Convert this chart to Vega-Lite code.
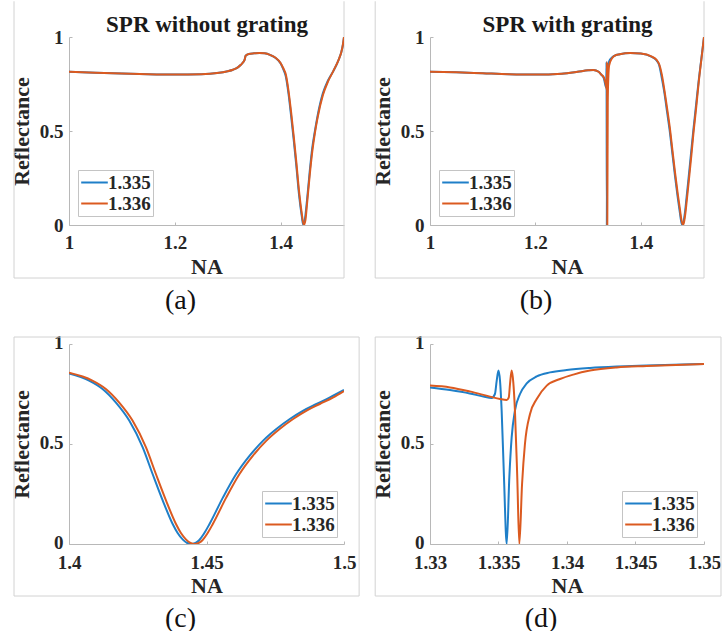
{
  "$schema": "https://vega.github.io/schema/vega-lite/v6.json",
  "background": "white",
  "padding": {"left": 10, "top": 0, "right": 0, "bottom": 0},
  "config": {
    "font": "Liberation Serif",
    "view": {"stroke": null},
    "axis": {
      "grid": false,
      "labelFont": "Liberation Serif", "labelFontSize": 19, "labelFontWeight": "bold", "labelColor": "#262626",
      "titleFont": "Liberation Serif", "titleFontSize": 22, "titleFontWeight": "bold", "titleColor": "#262626",
      "domainColor": "#b8b8b8", "tickColor": "#b8b8b8", "tickSize": -3, "labelFlush": false, "labelOverlap": false
    },
    "axisX": {"titlePadding": 4, "labelPadding": 11},
    "axisY": {"titlePadding": 6, "labelPadding": 9},
    "legend": {
      "labelFont": "Liberation Serif", "labelFontSize": 19, "labelFontWeight": "bold", "labelColor": "#262626",
      "symbolType": "M-1.4,0H1.4", "symbolSize": 361, "symbolStrokeWidth": 2, "symbolOffset": 4,
      "strokeColor": "#c4c4c4", "fillColor": "white", "padding": 2, "rowPadding": 0, "labelOffset": 3
    },
    "title": {"font": "Liberation Serif", "fontSize": 28, "fontWeight": "normal", "color": "#111111", "orient": "bottom", "anchor": "middle", "offset": 8}
  },
  "datasets": {
    "a": [
      {"NA":1.00,"R":0.815,"n":"1.335"},{"NA":1.05,"R":0.81,"n":"1.335"},{"NA":1.10,"R":0.806,"n":"1.335"},{"NA":1.15,"R":0.802,"n":"1.335"},{"NA":1.20,"R":0.80,"n":"1.335"},{"NA":1.25,"R":0.802,"n":"1.335"},{"NA":1.28,"R":0.808,"n":"1.335"},{"NA":1.30,"R":0.818,"n":"1.335"},{"NA":1.31,"R":0.826,"n":"1.335"},{"NA":1.32,"R":0.84,"n":"1.335"},{"NA":1.325,"R":0.852,"n":"1.335"},{"NA":1.33,"R":0.868,"n":"1.335"},{"NA":1.332,"R":0.878,"n":"1.335"},{"NA":1.334,"R":0.90,"n":"1.335"},{"NA":1.336,"R":0.905,"n":"1.335"},{"NA":1.34,"R":0.91,"n":"1.335"},{"NA":1.35,"R":0.913,"n":"1.335"},{"NA":1.36,"R":0.915,"n":"1.335"},{"NA":1.37,"R":0.913,"n":"1.335"},{"NA":1.38,"R":0.905,"n":"1.335"},{"NA":1.39,"R":0.89,"n":"1.335"},{"NA":1.40,"R":0.86,"n":"1.335"},{"NA":1.405,"R":0.83,"n":"1.335"},{"NA":1.41,"R":0.79,"n":"1.335"},{"NA":1.415,"R":0.70,"n":"1.335"},{"NA":1.42,"R":0.58,"n":"1.335"},{"NA":1.425,"R":0.45,"n":"1.335"},{"NA":1.43,"R":0.31,"n":"1.335"},{"NA":1.435,"R":0.16,"n":"1.335"},{"NA":1.44,"R":0.05,"n":"1.335"},{"NA":1.443,"R":0.0,"n":"1.335"},{"NA":1.446,"R":0.03,"n":"1.335"},{"NA":1.45,"R":0.13,"n":"1.335"},{"NA":1.455,"R":0.28,"n":"1.335"},{"NA":1.46,"R":0.41,"n":"1.335"},{"NA":1.465,"R":0.50,"n":"1.335"},{"NA":1.47,"R":0.58,"n":"1.335"},{"NA":1.48,"R":0.70,"n":"1.335"},{"NA":1.49,"R":0.77,"n":"1.335"},{"NA":1.50,"R":0.82,"n":"1.335"},{"NA":1.51,"R":0.88,"n":"1.335"},{"NA":1.515,"R":0.92,"n":"1.335"},{"NA":1.518,"R":0.96,"n":"1.335"},{"NA":1.52,"R":1.0,"n":"1.335"},
      {"NA":1.00,"R":0.815,"n":"1.336"},{"NA":1.05,"R":0.81,"n":"1.336"},{"NA":1.10,"R":0.806,"n":"1.336"},{"NA":1.15,"R":0.802,"n":"1.336"},{"NA":1.20,"R":0.80,"n":"1.336"},{"NA":1.25,"R":0.802,"n":"1.336"},{"NA":1.28,"R":0.808,"n":"1.336"},{"NA":1.30,"R":0.818,"n":"1.336"},{"NA":1.31,"R":0.826,"n":"1.336"},{"NA":1.32,"R":0.84,"n":"1.336"},{"NA":1.325,"R":0.852,"n":"1.336"},{"NA":1.33,"R":0.868,"n":"1.336"},{"NA":1.332,"R":0.878,"n":"1.336"},{"NA":1.334,"R":0.90,"n":"1.336"},{"NA":1.336,"R":0.905,"n":"1.336"},{"NA":1.34,"R":0.91,"n":"1.336"},{"NA":1.35,"R":0.913,"n":"1.336"},{"NA":1.36,"R":0.915,"n":"1.336"},{"NA":1.37,"R":0.913,"n":"1.336"},{"NA":1.38,"R":0.905,"n":"1.336"},{"NA":1.39,"R":0.891,"n":"1.336"},{"NA":1.40,"R":0.862,"n":"1.336"},{"NA":1.405,"R":0.835,"n":"1.336"},{"NA":1.41,"R":0.80,"n":"1.336"},{"NA":1.415,"R":0.715,"n":"1.336"},{"NA":1.42,"R":0.60,"n":"1.336"},{"NA":1.425,"R":0.47,"n":"1.336"},{"NA":1.43,"R":0.33,"n":"1.336"},{"NA":1.435,"R":0.18,"n":"1.336"},{"NA":1.44,"R":0.065,"n":"1.336"},{"NA":1.444,"R":0.0,"n":"1.336"},{"NA":1.447,"R":0.025,"n":"1.336"},{"NA":1.45,"R":0.11,"n":"1.336"},{"NA":1.455,"R":0.26,"n":"1.336"},{"NA":1.46,"R":0.39,"n":"1.336"},{"NA":1.465,"R":0.49,"n":"1.336"},{"NA":1.47,"R":0.57,"n":"1.336"},{"NA":1.48,"R":0.69,"n":"1.336"},{"NA":1.49,"R":0.765,"n":"1.336"},{"NA":1.50,"R":0.82,"n":"1.336"},{"NA":1.51,"R":0.88,"n":"1.336"},{"NA":1.515,"R":0.92,"n":"1.336"},{"NA":1.518,"R":0.96,"n":"1.336"},{"NA":1.52,"R":1.0,"n":"1.336"}
    ],
    "b": [
      {"NA":1.00,"R":0.815,"n":"1.335"},{"NA":1.05,"R":0.812,"n":"1.335"},{"NA":1.10,"R":0.807,"n":"1.335"},{"NA":1.15,"R":0.802,"n":"1.335"},{"NA":1.20,"R":0.80,"n":"1.335"},{"NA":1.25,"R":0.805,"n":"1.335"},{"NA":1.28,"R":0.815,"n":"1.335"},{"NA":1.30,"R":0.823,"n":"1.335"},{"NA":1.31,"R":0.825,"n":"1.335"},{"NA":1.32,"R":0.815,"n":"1.335"},{"NA":1.325,"R":0.80,"n":"1.335"},{"NA":1.33,"R":0.78,"n":"1.335"},{"NA":1.3345,"R":0.73,"n":"1.335"},{"NA":1.335,"R":0.867,"n":"1.335"},{"NA":1.3356,"R":0.0,"n":"1.335"},{"NA":1.3362,"R":0.667,"n":"1.335"},{"NA":1.337,"R":0.80,"n":"1.335"},{"NA":1.34,"R":0.87,"n":"1.335"},{"NA":1.345,"R":0.89,"n":"1.335"},{"NA":1.35,"R":0.90,"n":"1.335"},{"NA":1.36,"R":0.908,"n":"1.335"},{"NA":1.38,"R":0.915,"n":"1.335"},{"NA":1.40,"R":0.912,"n":"1.335"},{"NA":1.42,"R":0.895,"n":"1.335"},{"NA":1.43,"R":0.875,"n":"1.335"},{"NA":1.435,"R":0.85,"n":"1.335"},{"NA":1.44,"R":0.78,"n":"1.335"},{"NA":1.445,"R":0.70,"n":"1.335"},{"NA":1.45,"R":0.60,"n":"1.335"},{"NA":1.455,"R":0.50,"n":"1.335"},{"NA":1.46,"R":0.38,"n":"1.335"},{"NA":1.465,"R":0.26,"n":"1.335"},{"NA":1.47,"R":0.15,"n":"1.335"},{"NA":1.474,"R":0.07,"n":"1.335"},{"NA":1.477,"R":0.015,"n":"1.335"},{"NA":1.479,"R":0.0,"n":"1.335"},{"NA":1.481,"R":0.015,"n":"1.335"},{"NA":1.484,"R":0.07,"n":"1.335"},{"NA":1.487,"R":0.15,"n":"1.335"},{"NA":1.49,"R":0.23,"n":"1.335"},{"NA":1.495,"R":0.37,"n":"1.335"},{"NA":1.50,"R":0.51,"n":"1.335"},{"NA":1.505,"R":0.64,"n":"1.335"},{"NA":1.51,"R":0.77,"n":"1.335"},{"NA":1.515,"R":0.885,"n":"1.335"},{"NA":1.52,"R":1.0,"n":"1.335"},
      {"NA":1.00,"R":0.815,"n":"1.336"},{"NA":1.05,"R":0.812,"n":"1.336"},{"NA":1.10,"R":0.807,"n":"1.336"},{"NA":1.15,"R":0.802,"n":"1.336"},{"NA":1.20,"R":0.80,"n":"1.336"},{"NA":1.25,"R":0.805,"n":"1.336"},{"NA":1.28,"R":0.815,"n":"1.336"},{"NA":1.30,"R":0.823,"n":"1.336"},{"NA":1.31,"R":0.825,"n":"1.336"},{"NA":1.32,"R":0.815,"n":"1.336"},{"NA":1.325,"R":0.80,"n":"1.336"},{"NA":1.33,"R":0.785,"n":"1.336"},{"NA":1.3345,"R":0.735,"n":"1.336"},{"NA":1.3356,"R":0.72,"n":"1.336"},{"NA":1.336,"R":0.867,"n":"1.336"},{"NA":1.3365,"R":0.0,"n":"1.336"},{"NA":1.3373,"R":0.65,"n":"1.336"},{"NA":1.3385,"R":0.79,"n":"1.336"},{"NA":1.34,"R":0.85,"n":"1.336"},{"NA":1.345,"R":0.885,"n":"1.336"},{"NA":1.35,"R":0.90,"n":"1.336"},{"NA":1.36,"R":0.908,"n":"1.336"},{"NA":1.38,"R":0.915,"n":"1.336"},{"NA":1.40,"R":0.912,"n":"1.336"},{"NA":1.42,"R":0.897,"n":"1.336"},{"NA":1.43,"R":0.878,"n":"1.336"},{"NA":1.435,"R":0.855,"n":"1.336"},{"NA":1.44,"R":0.80,"n":"1.336"},{"NA":1.445,"R":0.715,"n":"1.336"},{"NA":1.45,"R":0.62,"n":"1.336"},{"NA":1.455,"R":0.52,"n":"1.336"},{"NA":1.46,"R":0.40,"n":"1.336"},{"NA":1.465,"R":0.28,"n":"1.336"},{"NA":1.47,"R":0.17,"n":"1.336"},{"NA":1.474,"R":0.09,"n":"1.336"},{"NA":1.477,"R":0.03,"n":"1.336"},{"NA":1.48,"R":0.0,"n":"1.336"},{"NA":1.482,"R":0.015,"n":"1.336"},{"NA":1.485,"R":0.07,"n":"1.336"},{"NA":1.488,"R":0.15,"n":"1.336"},{"NA":1.491,"R":0.23,"n":"1.336"},{"NA":1.496,"R":0.37,"n":"1.336"},{"NA":1.50,"R":0.49,"n":"1.336"},{"NA":1.505,"R":0.62,"n":"1.336"},{"NA":1.51,"R":0.76,"n":"1.336"},{"NA":1.515,"R":0.88,"n":"1.336"},{"NA":1.52,"R":1.0,"n":"1.336"}
    ],
    "c": [
      {"NA":1.40,"R":0.853,"n":"1.335"},{"NA":1.4073,"R":0.817,"n":"1.335"},{"NA":1.4122,"R":0.775,"n":"1.335"},{"NA":1.417,"R":0.708,"n":"1.335"},{"NA":1.4219,"R":0.617,"n":"1.335"},{"NA":1.4268,"R":0.483,"n":"1.335"},{"NA":1.4304,"R":0.35,"n":"1.335"},{"NA":1.4341,"R":0.217,"n":"1.335"},{"NA":1.4377,"R":0.10,"n":"1.335"},{"NA":1.4395,"R":0.055,"n":"1.335"},{"NA":1.4414,"R":0.022,"n":"1.335"},{"NA":1.443,"R":0.005,"n":"1.335"},{"NA":1.4444,"R":0.0,"n":"1.335"},{"NA":1.446,"R":0.006,"n":"1.335"},{"NA":1.4474,"R":0.02,"n":"1.335"},{"NA":1.449,"R":0.05,"n":"1.335"},{"NA":1.4511,"R":0.10,"n":"1.335"},{"NA":1.456,"R":0.233,"n":"1.335"},{"NA":1.4608,"R":0.35,"n":"1.335"},{"NA":1.4657,"R":0.442,"n":"1.335"},{"NA":1.4706,"R":0.517,"n":"1.335"},{"NA":1.4754,"R":0.575,"n":"1.335"},{"NA":1.4803,"R":0.625,"n":"1.335"},{"NA":1.4852,"R":0.667,"n":"1.335"},{"NA":1.49,"R":0.70,"n":"1.335"},{"NA":1.4949,"R":0.733,"n":"1.335"},{"NA":1.50,"R":0.77,"n":"1.335"},
      {"NA":1.40,"R":0.856,"n":"1.336"},{"NA":1.4085,"R":0.817,"n":"1.336"},{"NA":1.4134,"R":0.775,"n":"1.336"},{"NA":1.4182,"R":0.708,"n":"1.336"},{"NA":1.4231,"R":0.617,"n":"1.336"},{"NA":1.428,"R":0.483,"n":"1.336"},{"NA":1.4316,"R":0.35,"n":"1.336"},{"NA":1.4353,"R":0.217,"n":"1.336"},{"NA":1.4389,"R":0.10,"n":"1.336"},{"NA":1.4407,"R":0.055,"n":"1.336"},{"NA":1.4426,"R":0.022,"n":"1.336"},{"NA":1.4442,"R":0.005,"n":"1.336"},{"NA":1.4456,"R":0.0,"n":"1.336"},{"NA":1.4472,"R":0.006,"n":"1.336"},{"NA":1.4486,"R":0.02,"n":"1.336"},{"NA":1.4502,"R":0.05,"n":"1.336"},{"NA":1.4523,"R":0.10,"n":"1.336"},{"NA":1.4572,"R":0.233,"n":"1.336"},{"NA":1.462,"R":0.35,"n":"1.336"},{"NA":1.4669,"R":0.442,"n":"1.336"},{"NA":1.4718,"R":0.517,"n":"1.336"},{"NA":1.4766,"R":0.575,"n":"1.336"},{"NA":1.4815,"R":0.625,"n":"1.336"},{"NA":1.4864,"R":0.667,"n":"1.336"},{"NA":1.4912,"R":0.70,"n":"1.336"},{"NA":1.4961,"R":0.733,"n":"1.336"},{"NA":1.50,"R":0.765,"n":"1.336"}
    ],
    "d": [
      {"NA":1.33,"R":0.783,"n":"1.335"},{"NA":1.33146,"R":0.77,"n":"1.335"},{"NA":1.3329,"R":0.753,"n":"1.335"},{"NA":1.3339,"R":0.737,"n":"1.335"},{"NA":1.3345,"R":0.73,"n":"1.335"},{"NA":1.33474,"R":0.75,"n":"1.335"},{"NA":1.33487,"R":0.817,"n":"1.335"},{"NA":1.335,"R":0.867,"n":"1.335"},{"NA":1.33511,"R":0.817,"n":"1.335"},{"NA":1.33523,"R":0.667,"n":"1.335"},{"NA":1.3354,"R":0.333,"n":"1.335"},{"NA":1.3356,"R":0.0,"n":"1.335"},{"NA":1.33579,"R":0.333,"n":"1.335"},{"NA":1.33596,"R":0.533,"n":"1.335"},{"NA":1.3362,"R":0.667,"n":"1.335"},{"NA":1.33657,"R":0.75,"n":"1.335"},{"NA":1.33706,"R":0.803,"n":"1.335"},{"NA":1.33779,"R":0.838,"n":"1.335"},{"NA":1.33876,"R":0.858,"n":"1.335"},{"NA":1.33998,"R":0.87,"n":"1.335"},{"NA":1.34168,"R":0.88,"n":"1.335"},{"NA":1.34363,"R":0.887,"n":"1.335"},{"NA":1.34582,"R":0.892,"n":"1.335"},{"NA":1.35,"R":0.90,"n":"1.335"},
      {"NA":1.33,"R":0.792,"n":"1.336"},{"NA":1.33146,"R":0.783,"n":"1.336"},{"NA":1.3329,"R":0.763,"n":"1.336"},{"NA":1.33438,"R":0.737,"n":"1.336"},{"NA":1.33511,"R":0.725,"n":"1.336"},{"NA":1.3356,"R":0.72,"n":"1.336"},{"NA":1.33575,"R":0.733,"n":"1.336"},{"NA":1.33584,"R":0.80,"n":"1.336"},{"NA":1.33596,"R":0.867,"n":"1.336"},{"NA":1.33608,"R":0.808,"n":"1.336"},{"NA":1.3362,"R":0.667,"n":"1.336"},{"NA":1.33637,"R":0.333,"n":"1.336"},{"NA":1.33652,"R":0.0,"n":"1.336"},{"NA":1.33672,"R":0.30,"n":"1.336"},{"NA":1.33693,"R":0.50,"n":"1.336"},{"NA":1.3373,"R":0.65,"n":"1.336"},{"NA":1.33779,"R":0.725,"n":"1.336"},{"NA":1.33852,"R":0.792,"n":"1.336"},{"NA":1.33949,"R":0.825,"n":"1.336"},{"NA":1.34046,"R":0.847,"n":"1.336"},{"NA":1.34168,"R":0.867,"n":"1.336"},{"NA":1.34363,"R":0.883,"n":"1.336"},{"NA":1.34582,"R":0.89,"n":"1.336"},{"NA":1.35,"R":0.90,"n":"1.336"}
    ],
    "one": [{}]
  },
  "columns": 2,
  "bounds": "flush",
  "spacing": {"row": 119, "column": 86},
  "resolve": {"scale": {"x": "independent", "y": "independent", "color": "independent"}, "legend": {"color": "independent"}},
  "concat": [
    {
      "width": 275, "height": 188,
      "title": {"text": "(a)", "dx": -26},
      "resolve": {"axis": {"x": "independent", "y": "independent"}},
      "layer": [
        {"data": {"name": "one"}, "mark": {"type": "rule", "color": "#d2d2d2", "clip": false},
         "encoding": {"x": {"datum": 0.896, "type": "quantitative", "scale": {"domain": [1, 1.52], "nice": false, "zero": false}, "axis": null}, "y": {"datum": -0.282, "type": "quantitative", "scale": {"domain": [0, 1], "nice": false}, "axis": null}, "y2": {"datum": 1.19}}},
        {"data": {"name": "one"}, "mark": {"type": "rule", "color": "#d2d2d2", "clip": false},
         "encoding": {"x": {"datum": 1.52, "type": "quantitative", "axis": null}, "y": {"datum": -0.282, "type": "quantitative", "axis": null}, "y2": {"datum": 1.19}}},
        {"data": {"name": "one"}, "mark": {"type": "rule", "color": "#d2d2d2", "clip": false},
         "encoding": {"x": {"datum": 0.896, "type": "quantitative", "axis": null}, "x2": {"datum": 1.52}, "y": {"datum": -0.282, "type": "quantitative", "axis": null}}},
        {"data": {"name": "a"}, "mark": {"type": "line", "opacity": 0},
         "encoding": {
           "x": {"field": "NA", "type": "quantitative", "axis": {"orient": "top", "title": "SPR without grating", "labels": false, "ticks": false, "domain": false, "titleFontSize": 23, "titlePadding": 1, "titleColor": "#1a1a1a"}},
           "y": {"field": "R", "type": "quantitative", "axis": null}
         }},
        {"data": {"name": "a"}, "mark": {"type": "line", "strokeWidth": 2, "interpolate": "monotone", "clip": true},
         "encoding": {
           "x": {"field": "NA", "type": "quantitative", "scale": {"domain": [1, 1.52], "nice": false, "zero": false}, "axis": {"title": "NA", "values": [1, 1.2, 1.4], "format": "~g"}},
           "y": {"field": "R", "type": "quantitative", "scale": {"domain": [0, 1], "nice": false}, "axis": {"title": "Reflectance", "values": [0, 0.5, 1], "format": "~g"}},
           "color": {"field": "n", "type": "nominal", "scale": {"domain": ["1.335", "1.336"], "range": ["#1f7fc8", "#db5a20"]}, "legend": {"title": null, "orient": "bottom-left", "offset": 9}}
         }}
      ]
    },
    {
      "width": 274, "height": 188,
      "title": {"text": "(b)", "dx": -31},
      "resolve": {"axis": {"x": "independent", "y": "independent"}},
      "layer": [
        {"data": {"name": "one"}, "mark": {"type": "rule", "color": "#d2d2d2", "clip": false},
         "encoding": {"x": {"datum": 0.896, "type": "quantitative", "scale": {"domain": [1, 1.52], "nice": false, "zero": false}, "axis": null}, "y": {"datum": -0.282, "type": "quantitative", "scale": {"domain": [0, 1], "nice": false}, "axis": null}, "y2": {"datum": 1.19}}},
        {"data": {"name": "one"}, "mark": {"type": "rule", "color": "#d2d2d2", "clip": false},
         "encoding": {"x": {"datum": 1.52, "type": "quantitative", "axis": null}, "y": {"datum": -0.282, "type": "quantitative", "axis": null}, "y2": {"datum": 1.19}}},
        {"data": {"name": "one"}, "mark": {"type": "rule", "color": "#d2d2d2", "clip": false},
         "encoding": {"x": {"datum": 0.896, "type": "quantitative", "axis": null}, "x2": {"datum": 1.52}, "y": {"datum": -0.282, "type": "quantitative", "axis": null}}},
        {"data": {"name": "b"}, "mark": {"type": "line", "opacity": 0},
         "encoding": {
           "x": {"field": "NA", "type": "quantitative", "axis": {"orient": "top", "title": "SPR with grating", "labels": false, "ticks": false, "domain": false, "titleFontSize": 23, "titlePadding": 1, "titleColor": "#1a1a1a"}},
           "y": {"field": "R", "type": "quantitative", "axis": null}
         }},
        {"data": {"name": "b"}, "mark": {"type": "line", "strokeWidth": 2, "interpolate": "monotone", "clip": true},
         "encoding": {
           "x": {"field": "NA", "type": "quantitative", "scale": {"domain": [1, 1.52], "nice": false, "zero": false}, "axis": {"title": "NA", "values": [1, 1.2, 1.4], "format": "~g"}},
           "y": {"field": "R", "type": "quantitative", "scale": {"domain": [0, 1], "nice": false}, "axis": {"title": "Reflectance", "values": [0, 0.5, 1], "format": "~g"}},
           "color": {"field": "n", "type": "nominal", "scale": {"domain": ["1.335", "1.336"], "range": ["#1f7fc8", "#db5a20"]}, "legend": {"title": null, "orient": "bottom-left", "offset": 9}}
         }}
      ]
    },
    {
      "width": 275, "height": 200,
      "title": {"text": "(c)", "dx": -26},
      "resolve": {"axis": {"x": "independent", "y": "independent"}},
      "layer": [
        {"data": {"name": "one"}, "mark": {"type": "rect", "filled": false, "color": "#d2d2d2", "strokeWidth": 1, "clip": false},
         "encoding": {"x": {"datum": 1.38, "type": "quantitative", "scale": {"domain": [1.4, 1.5], "nice": false, "zero": false}, "axis": null}, "x2": {"datum": 1.5055}, "y": {"datum": -0.26, "type": "quantitative", "scale": {"domain": [0, 1], "nice": false}, "axis": null}, "y2": {"datum": 1.035}}},
        {"data": {"name": "c"}, "mark": {"type": "line", "strokeWidth": 2, "interpolate": "monotone", "clip": true},
         "encoding": {
           "x": {"field": "NA", "type": "quantitative", "scale": {"domain": [1.4, 1.5], "nice": false, "zero": false}, "axis": {"title": "NA", "values": [1.4, 1.45, 1.5], "format": "~g", "labelPadding": 12, "titlePadding": 3}},
           "y": {"field": "R", "type": "quantitative", "scale": {"domain": [0, 1], "nice": false}, "axis": {"title": "Reflectance", "values": [0, 0.5, 1], "format": "~g", "labelOffset": -2}},
           "color": {"field": "n", "type": "nominal", "scale": {"domain": ["1.335", "1.336"], "range": ["#1f7fc8", "#db5a20"]}, "legend": {"title": null, "orient": "bottom-right", "offset": 7}}
         }}
      ]
    },
    {
      "width": 274, "height": 200,
      "title": {"text": "(d)", "dx": -26},
      "resolve": {"axis": {"x": "independent", "y": "independent"}},
      "layer": [
        {"data": {"name": "one"}, "mark": {"type": "rect", "filled": false, "color": "#d2d2d2", "strokeWidth": 1, "clip": false},
         "encoding": {"x": {"datum": 1.326, "type": "quantitative", "scale": {"domain": [1.33, 1.35], "nice": false, "zero": false}, "axis": null}, "x2": {"datum": 1.35124}, "y": {"datum": -0.26, "type": "quantitative", "scale": {"domain": [0, 1], "nice": false}, "axis": null}, "y2": {"datum": 1.035}}},
        {"data": {"name": "d"}, "mark": {"type": "line", "strokeWidth": 2, "interpolate": "monotone", "clip": true},
         "encoding": {
           "x": {"field": "NA", "type": "quantitative", "scale": {"domain": [1.33, 1.35], "nice": false, "zero": false}, "axis": {"title": "NA", "values": [1.33, 1.335, 1.34, 1.345, 1.35], "format": "~g", "labelPadding": 12, "titlePadding": 3}},
           "y": {"field": "R", "type": "quantitative", "scale": {"domain": [0, 1], "nice": false}, "axis": {"title": "Reflectance", "values": [0, 0.5, 1], "format": "~g", "labelOffset": -2}},
           "color": {"field": "n", "type": "nominal", "scale": {"domain": ["1.335", "1.336"], "range": ["#1f7fc8", "#db5a20"]}, "legend": {"title": null, "orient": "bottom-right", "offset": 7}}
         }}
      ]
    }
  ]
}
